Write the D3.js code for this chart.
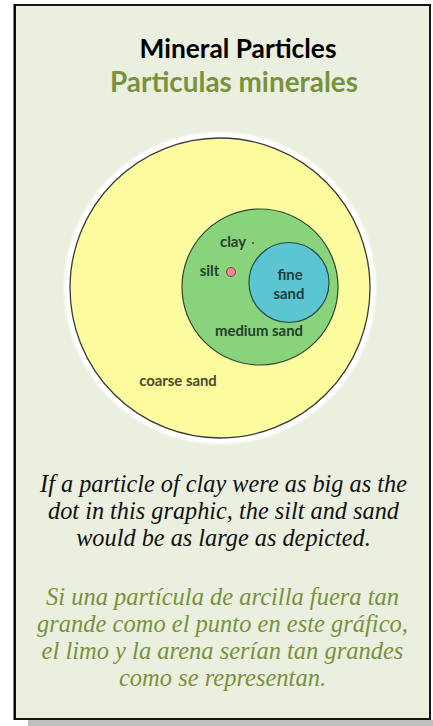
<!DOCTYPE html>
<html><head><meta charset="utf-8">
<script src="https://cdn.jsdelivr.net/npm/d3@7"></script>
<style>html,body{margin:0;padding:0;background:#fff;}svg{display:block;}</style>
</head><body>
<svg id="c" width="433" height="726"></svg>
<script>
// ---- data ----
const titleEn = "Mineral Particles";
const titleEs = "Particulas minerales";
const particles = ["coarse sand", "medium sand", "fine sand", "silt", "clay"];
const diameters = [300, 156, 80, 9, 2];          // relative particle diameters as drawn
const particleColors = ["#fcfc9f", "#89d37c", "#5bc5d2", "#f08a93", "#2d5a32"];
const captionEn = ["If a particle of clay were as big as the", "dot in this graphic, the silt and sand", "would be as large as depicted."];
const captionEs = ["Si una partícula de arcilla fuera tan", "grande como el punto en este gráfico,", "el limo y la arena serían tan grandes", "como se representan."];

// ---- layout ----
const svg = d3.select("#c");
const r = d3.scaleLinear().domain([0, 300]).range([0, 150]); // diameter -> radius in px
const centers = [[220, 288], [260, 287], [289, 282.5], [231, 272], [253, 243]];

// shadow + box
svg.append("rect").attr("x", 28).attr("y", 720).attr("width", 405).attr("height", 6).attr("fill", "#bfbfbf");
svg.append("rect").attr("x", 15).attr("y", 5).attr("width", 415).attr("height", 714)
  .attr("fill", "#ebefdf").attr("stroke", "#151515").attr("stroke-width", 2);
svg.append("line").attr("x1", 14.5).attr("x2", 14.5).attr("y1", 4).attr("y2", 720).attr("stroke", "#000").attr("stroke-width", 2);

function fitText(sel, target) {
  const w = sel.node().getComputedTextLength();
  const fs = parseFloat(sel.attr("font-size"));
  sel.attr("font-size", fs * target / w);
}
// titles
const t1 = svg.append("text").attr("x", 238).attr("y", 58).attr("text-anchor", "middle")
  .attr("font-family", "Lato, 'Open Sans', sans-serif").attr("font-weight", 700).attr("font-size", 22)
  .attr("fill", "#000").text(titleEn);
fitText(t1, 197);
const t2 = svg.append("text").attr("x", 234).attr("y", 92).attr("text-anchor", "middle")
  .attr("font-family", "Lato, 'Open Sans', sans-serif").attr("font-weight", 700).attr("font-size", 22)
  .attr("fill", "#77933c").text(titleEs);
fitText(t2, 248);

// halo
const defs = svg.append("defs");
defs.append("filter").attr("id", "blur").append("feGaussianBlur").attr("stdDeviation", 1.2);
svg.append("circle").attr("cx", centers[0][0]).attr("cy", centers[0][1]).attr("r", r(diameters[0]) + 6)
  .attr("fill", "#ffffff").attr("filter", "url(#blur)");

// circles
const strokes = ["#3a3a3a", "#2c4a30", "#274a45", "#8a3a3a", "none"];
const strokeW = [1.3, 1.2, 1.2, 1, 0];
svg.selectAll("circle.p").data(particles).enter().append("circle").attr("class", "p")
  .attr("cx", (d, i) => centers[i][0]).attr("cy", (d, i) => centers[i][1])
  .attr("r", (d, i) => Math.max(r(diameters[i]), 0.8))
  .attr("fill", (d, i) => particleColors[i])
  .attr("stroke", (d, i) => strokes[i]).attr("stroke-width", (d, i) => strokeW[i]);

// labels
const labels = [
  {t: "coarse sand", x: 178, y: 386, c: "#4b4a2c"},
  {t: "medium sand", x: 259, y: 336, c: "#23402a"},
  {t: "fine", x: 290, y: 280, c: "#1d3d3d"},
  {t: "sand", x: 289, y: 299, c: "#1d3d3d"},
  {t: "silt", x: 209.5, y: 276, c: "#23402a"},
  {t: "clay", x: 233, y: 246.5, c: "#23402a"}
];
const labT = svg.selectAll("text.lab").data(labels).enter().append("text").attr("class", "lab")
  .attr("x", d => d.x).attr("y", d => d.y).attr("text-anchor", "middle")
  .attr("font-family", "Lato, 'Open Sans', sans-serif").attr("font-weight", 700).attr("font-size", 13)
  .attr("fill", d => d.c).text(d => d.t);
{
  const w = labT.nodes()[1].getComputedTextLength();
  labT.attr("font-size", 13 * 88 / w);
}

// captions
const capFont = "'Liberation Serif', 'DejaVu Serif', serif";
const en = svg.append("g").attr("font-family", capFont).attr("font-style", "italic").attr("fill", "#111");
const enT = en.selectAll("text").data(captionEn).enter().append("text")
  .attr("x", 223.5).attr("y", (d, i) => 492 + i * 27).attr("text-anchor", "middle").attr("font-size", 22).text(d => d);
{
  const w = enT.nodes()[0].getComputedTextLength();
  enT.attr("font-size", 22 * 367 / w);
}
const es = svg.append("g").attr("font-family", capFont).attr("font-style", "italic").attr("fill", "#77933c");
const esT = es.selectAll("text").data(captionEs).enter().append("text")
  .attr("x", 222.5).attr("y", (d, i) => 605 + i * 27).attr("text-anchor", "middle").attr("font-size", 22).text(d => d);
{
  const w = esT.nodes()[1].getComputedTextLength();
  esT.attr("font-size", 22 * 371 / w);
}
</script>
</body></html>
